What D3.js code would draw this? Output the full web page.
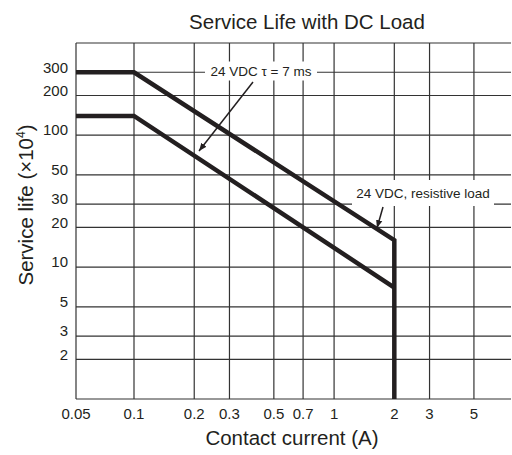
<!DOCTYPE html>
<html>
<head>
<meta charset="utf-8">
<script src="https://cdn.jsdelivr.net/npm/d3@7"></script>
<style>
  body { margin: 0; background: #fff; }
  text { font-family: "Liberation Sans", Arial, Helvetica, sans-serif; fill: #231f20; }
</style>
</head>
<body>
<div id="chart"></div>
<script>
// chart data
var xTicks = [0.05, 0.1, 0.2, 0.3, 0.5, 0.7, 1, 2, 3, 5]
var yTicks = [2, 3, 5, 10, 20, 30, 50, 100, 200, 300]
var inductiveCurrent = [0.05, 0.1, 2]
var inductiveLife = [140, 140, 7]
var resistiveCurrent = [0.05, 0.1, 2, 2]
var resistiveLife = [300, 300, 16, 1]

// dimensions (plot edges)
var width = 512,
    height = 455,
    plotLeft = 76, plotRight = 511, plotTop = 43, plotBottom = 399

var svg = d3.select("#chart")
  .append("svg")
    .attr("width", width)
    .attr("height", height)

// log scales (left edge sits a bit right of 0.05, clamp pins it to the border)
var x = d3.scaleLog().domain([0.0513, 7.66]).range([plotLeft, plotRight]).clamp(true)
var y = d3.scaleLog().domain([1, 500]).range([plotBottom, plotTop])

// grid lines
var grid = svg.append("g")
  .attr("stroke", "#333")
  .attr("stroke-width", 1.2)

grid.selectAll("hline")
  .data([1].concat(yTicks).concat([500]))
  .enter()
  .append("line")
    .attr("x1", plotLeft).attr("x2", plotRight)
    .attr("y1", function(d) { return y(d) })
    .attr("y2", function(d) { return y(d) })

grid.selectAll("vline")
  .data(xTicks)
  .enter()
  .append("line")
    .attr("y1", plotTop).attr("y2", plotBottom)
    .attr("x1", function(d) { return x(d) })
    .attr("x2", function(d) { return x(d) })

// tick labels
svg.selectAll("ylab")
  .data(yTicks)
  .enter()
  .append("text")
    .attr("x", 68)
    .attr("y", function(d) { return y(d) - 5 })
    .attr("dy", "0.35em")
    .attr("text-anchor", "end")
    .style("font-size", "15px")
    .text(function(d) { return d })

svg.selectAll("xlab")
  .data(xTicks)
  .enter()
  .append("text")
    .attr("x", function(d) { return x(d) })
    .attr("y", 419)
    .attr("text-anchor", "middle")
    .style("font-size", "15px")
    .text(function(d) { return d })

// curves
var line = d3.line()
  .x(function(d) { return x(d[0]) })
  .y(function(d) { return y(d[1]) })

var curves = [d3.zip(inductiveCurrent, inductiveLife), d3.zip(resistiveCurrent, resistiveLife)]

svg.selectAll("curve")
  .data(curves)
  .enter()
  .append("path")
    .attr("d", line)
    .attr("fill", "none")
    .attr("stroke", "#231f20")
    .attr("stroke-width", 4.5)
    .attr("stroke-linejoin", "miter")

// arrowhead
svg.append("defs").append("marker")
    .attr("id", "arrow")
    .attr("viewBox", "0 0 10 10")
    .attr("refX", 10).attr("refY", 5)
    .attr("markerWidth", 8).attr("markerHeight", 8)
    .attr("markerUnits", "userSpaceOnUse")
    .attr("orient", "auto")
  .append("path")
    .attr("d", "M0,1 L10,5 L0,9 Z")
    .attr("fill", "#231f20")

// annotation boxes + labels
var notes = [
  {text: "24 VDC \u03c4 = 7 ms", cx: 261, cy: 71, w: 112, h: 19},
  {text: "24 VDC, resistive load", cx: 423, cy: 193, w: 142, h: 26}
]
svg.selectAll("notebox")
  .data(notes)
  .enter()
  .append("rect")
    .attr("x", function(d) { return d.cx - d.w / 2 })
    .attr("y", function(d) { return d.cy - d.h / 2 })
    .attr("width", function(d) { return d.w })
    .attr("height", function(d) { return d.h })
    .attr("fill", "#fff")

svg.selectAll("notetext")
  .data(notes)
  .enter()
  .append("text")
    .attr("x", function(d) { return d.cx })
    .attr("y", function(d) { return d.cy })
    .attr("dy", "0.35em")
    .attr("text-anchor", "middle")
    .style("font-size", "13.5px")
    .text(function(d) { return d.text })

// arrows to the curves
svg.append("line")
    .attr("x1", 253).attr("y1", 82)
    .attr("x2", 199).attr("y2", 151)
    .attr("stroke", "#231f20").attr("stroke-width", 1.5)
    .attr("marker-end", "url(#arrow)")

svg.append("line")
    .attr("x1", 383).attr("y1", 207)
    .attr("x2", 377).attr("y2", 228)
    .attr("stroke", "#231f20").attr("stroke-width", 1.5)
    .attr("marker-end", "url(#arrow)")

// titles
svg.append("text")
    .attr("x", 307).attr("y", 29)
    .attr("text-anchor", "middle")
    .style("font-size", "20.5px")
    .text("Service Life with DC Load")

svg.append("text")
    .attr("x", 292).attr("y", 445)
    .attr("text-anchor", "middle")
    .style("font-size", "20.5px")
    .text("Contact current (A)")

var ytitle = svg.append("text")
    .attr("transform", "translate(33,205) rotate(-90)")
    .attr("text-anchor", "middle")
    .style("font-size", "20.5px")
ytitle.append("tspan").text("Service life (\u00d710")
ytitle.append("tspan").attr("dy", -8).style("font-size", "12px").text("4")
ytitle.append("tspan").attr("dy", 8).text(")")
</script>
</body>
</html>
